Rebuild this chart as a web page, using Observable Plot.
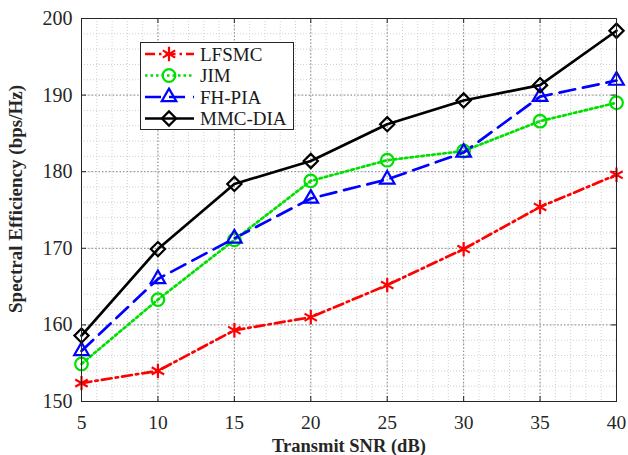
<!DOCTYPE html>
<html>
<head>
<meta charset="utf-8">
<script src="https://cdn.jsdelivr.net/npm/d3@7"></script>
<script src="https://cdn.jsdelivr.net/npm/@observablehq/plot@0.6"></script>
<style>
  html, body { margin: 0; padding: 0; background: #fff; }
  #chart { position: relative; width: 628px; height: 455px; }
</style>
</head>
<body>
<div id="chart"></div>
<script>
// ---- data ----
const snr = [5, 10, 15, 20, 25, 30, 35, 40];
const lfsmc = [152.4, 154.0, 159.3, 161.0, 165.2, 169.9, 175.4, 179.6];
const jim = [154.9, 163.3, 171.1, 178.8, 181.5, 182.7, 186.6, 189.0];
const fhpia = [156.6, 166.0, 171.3, 176.5, 179.0, 182.5, 189.8, 191.9];
const mmcdia = [158.6, 169.9, 178.4, 181.4, 186.2, 189.3, 191.3, 198.4];
const seriesNames = ["LFSMC", "JIM", "FH-PIA", "MMC-DIA"];
const xTicks = [5, 10, 15, 20, 25, 30, 35, 40];
const yTicks = [150, 160, 170, 180, 190, 200];
const xMinor = d3.range(5, 41, 1);
const yMinor = d3.range(150, 201, 2);

const styles = {
  "LFSMC":   {color: "#ff0000", dash: "10,4,2.5,4", symbol: "asterisk", r: 6.8},
  "JIM":     {color: "#00e000", dash: "2.5,3", symbol: "circle", r: 6.3},
  "FH-PIA":  {color: "#0000ff", dash: "16,8", symbol: "triangle", r: 5.4},
  "MMC-DIA": {color: "#000000", dash: null, symbol: "diamond2", r: 6.4}
};
const values = [lfsmc, jim, fhpia, mmcdia];
const table = [];
seriesNames.forEach((s, i) => snr.forEach((x, j) => table.push({series: s, snr: x, value: values[i][j]})));

const font = "'Liberation Serif', 'Times New Roman', serif";
const xTickLen = 0.33;  // in x units (~5px)
const yTickLen = 0.65;  // in y units (~5px)

const marks = [
  Plot.ruleX(xMinor, {stroke: "#d0d0d0", strokeDasharray: "1,2"}),
  Plot.ruleY(yMinor, {stroke: "#d0d0d0", strokeDasharray: "1,2"}),
  Plot.ruleX(xTicks, {stroke: "#8a8a8a", strokeDasharray: "1.5,2"}),
  Plot.ruleY(yTicks, {stroke: "#8a8a8a", strokeDasharray: "1.5,2"}),
  // inward tick marks on all four sides
  Plot.ruleX(xTicks, {y1: 150, y2: 150 + yTickLen, stroke: "#262626"}),
  Plot.ruleX(xTicks, {y1: 200, y2: 200 - yTickLen, stroke: "#262626"}),
  Plot.ruleY(yTicks, {x1: 5, x2: 5 + xTickLen, stroke: "#262626"}),
  Plot.ruleY(yTicks, {x1: 40, x2: 40 - xTickLen, stroke: "#262626"})
];
seriesNames.forEach(s => {
  const st = styles[s];
  const d = table.filter(t => t.series === s);
  marks.push(Plot.line(d, {x: "snr", y: "value", stroke: st.color, strokeWidth: 2.7, strokeDasharray: st.dash, strokeLinejoin: "round"}));
});
seriesNames.forEach(s => {
  const st = styles[s];
  const d = table.filter(t => t.series === s);
  marks.push(Plot.dot(d, {x: "snr", y: "value", stroke: st.color, strokeWidth: 2.2, symbol: st.symbol, r: st.r, fill: "none"}));
});
marks.push(
  Plot.frame({stroke: "#262626", strokeWidth: 1}),
  Plot.axisX(xTicks, {tickSize: 0, tickPadding: 14, fontSize: 19.5, label: null, fill: "#262626"}),
  Plot.axisY(yTicks, {tickSize: 0, tickPadding: 9, fontSize: 20, label: null, fill: "#262626"}),
  Plot.text(["Transmit SNR (dB)"], {frameAnchor: "bottom", lineAnchor: "middle", dy: 45, fontSize: 18.5, fontWeight: "bold", fill: "#262626"}),
  Plot.text(["Spectral Efficiency (bps/Hz)"], {frameAnchor: "left", textAnchor: "middle", rotate: -90, dx: -66, dy: -11, fontSize: 19, fontWeight: "bold", fill: "#262626"})
);

const chart = Plot.plot({
  width: 628,
  height: 455,
  marginLeft: 81,
  marginRight: 12,
  marginTop: 18,
  marginBottom: 54,
  style: {fontFamily: font, color: "#262626", background: "#fff"},
  x: {domain: [5, 40], axis: null},
  y: {domain: [150, 200], axis: null},
  marks
});
document.getElementById("chart").appendChild(chart);

// ---- legend ----
const svg = d3.select(chart);
const lg = svg.append("g").attr("font-family", font);
lg.append("rect").attr("x", 140.5).attr("y", 42.5).attr("width", 153).attr("height", 87)
  .attr("fill", "#fff").attr("stroke", "#262626").attr("stroke-width", 1);
const rowsY = [54, 75.5, 97, 118.5];
const symMap = {asterisk: d3.symbolAsterisk, circle: d3.symbolCircle, triangle: d3.symbolTriangle, diamond2: d3.symbolDiamond2};
seriesNames.forEach((s, i) => {
  const st = styles[s];
  const y = rowsY[i];
  lg.append("line").attr("x1", 145).attr("x2", 194).attr("y1", y).attr("y2", y)
    .attr("stroke", st.color).attr("stroke-width", 2.7)
    .attr("stroke-dasharray", st.dash);
  lg.append("path").attr("transform", `translate(169,${y})`)
    .attr("d", d3.symbol(symMap[st.symbol], Math.PI * st.r * st.r)())
    .attr("fill", "none").attr("stroke", st.color).attr("stroke-width", 2.2);
  lg.append("text").attr("x", 200).attr("y", y).attr("dy", "0.35em")
    .attr("text-anchor", "start")
    .attr("font-size", 19).attr("fill", "#1a1a1a").text(s);
});
</script>
</body>
</html>
